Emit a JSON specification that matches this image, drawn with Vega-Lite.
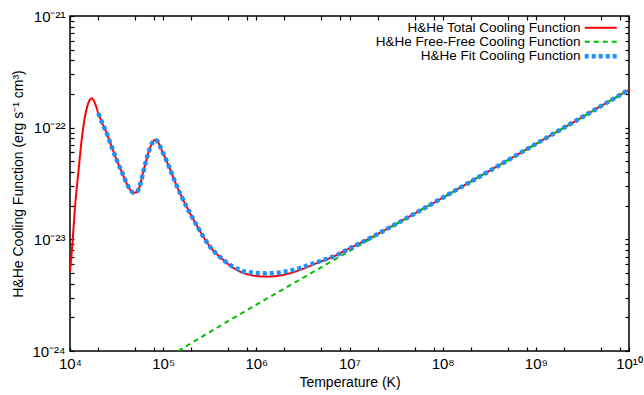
{
  "$schema": "https://vega.github.io/schema/vega-lite/v6.json",
  "width": 559,
  "height": 335,
  "autosize": {"type": "none"},
  "padding": {"left": 70, "top": 16, "right": 15, "bottom": 44},
  "background": "white",
  "config": {
    "font": "Liberation Sans",
    "view": {"stroke": "black", "strokeWidth": 1.5},
    "axis": {
      "domain": false, "tickColor": "black", "tickWidth": 1.2, "tickSize": 4, "offset": -4,
      "grid": false, "labelFont": "Liberation Sans", "labelFontSize": 15, "labelColor": "black",
      "titleFont": "Liberation Sans", "titleFontSize": 14, "titleFontWeight": "normal", "titleColor": "black"
    }
  },
  "data": {"values": [
    {"series": "H&He Total Cooling Function", "T": 10000, "L": 5.1286e-24},
    {"series": "H&He Total Cooling Function", "T": 10351, "L": 7.0795e-24},
    {"series": "H&He Total Cooling Function", "T": 10690, "L": 9.886e-24},
    {"series": "H&He Total Cooling Function", "T": 11324, "L": 1.9634e-23},
    {"series": "H&He Total Cooling Function", "T": 12274, "L": 3.9084e-23},
    {"series": "H&He Total Cooling Function", "T": 13335, "L": 7.7625e-23},
    {"series": "H&He Total Cooling Function", "T": 14488, "L": 1.2560e-22},
    {"series": "H&He Total Cooling Function", "T": 15704, "L": 1.6520e-22},
    {"series": "H&He Total Cooling Function", "T": 17100, "L": 1.8323e-22},
    {"series": "H&He Total Cooling Function", "T": 18535, "L": 1.6520e-22},
    {"series": "H&He Total Cooling Function", "T": 20137, "L": 1.3459e-22},
    {"series": "H&He Total Cooling Function", "T": 21878, "L": 1.1324e-22},
    {"series": "H&He Total Cooling Function", "T": 24774, "L": 8.9125e-23},
    {"series": "H&He Total Cooling Function", "T": 27990, "L": 6.7608e-23},
    {"series": "H&He Total Cooling Function", "T": 31696, "L": 5.1404e-23},
    {"series": "H&He Total Cooling Function", "T": 35892, "L": 4.0365e-23},
    {"series": "H&He Total Cooling Function", "T": 40551, "L": 3.1769e-23},
    {"series": "H&He Total Cooling Function", "T": 44668, "L": 2.7542e-23},
    {"series": "H&He Total Cooling Function", "T": 47753, "L": 2.6182e-23},
    {"series": "H&He Total Cooling Function", "T": 50699, "L": 2.6303e-23},
    {"series": "H&He Total Cooling Function", "T": 54075, "L": 2.7669e-23},
    {"series": "H&He Total Cooling Function", "T": 57544, "L": 3.2359e-23},
    {"series": "H&He Total Cooling Function", "T": 61235, "L": 4.0365e-23},
    {"series": "H&He Total Cooling Function", "T": 69183, "L": 5.9020e-23},
    {"series": "H&He Total Cooling Function", "T": 75858, "L": 7.2444e-23},
    {"series": "H&He Total Cooling Function", "T": 81658, "L": 7.7625e-23},
    {"series": "H&He Total Cooling Function", "T": 88105, "L": 7.4131e-23},
    {"series": "H&He Total Cooling Function", "T": 96383, "L": 6.3096e-23},
    {"series": "H&He Total Cooling Function", "T": 113500, "L": 4.6345e-23},
    {"series": "H&He Total Cooling Function", "T": 133970, "L": 3.2885e-23},
    {"series": "H&He Total Cooling Function", "T": 157760, "L": 2.4099e-23},
    {"series": "H&He Total Cooling Function", "T": 194090, "L": 1.7140e-23},
    {"series": "H&He Total Cooling Function", "T": 238230, "L": 1.2589e-23},
    {"series": "H&He Total Cooling Function", "T": 317690, "L": 8.6099e-24},
    {"series": "H&He Total Cooling Function", "T": 441570, "L": 6.5464e-24},
    {"series": "H&He Total Cooling Function", "T": 615180, "L": 5.3211e-24},
    {"series": "H&He Total Cooling Function", "T": 853100, "L": 4.8084e-24},
    {"series": "H&He Total Cooling Function", "T": 1288200, "L": 4.6345e-24},
    {"series": "H&He Total Cooling Function", "T": 1945400, "L": 4.7973e-24},
    {"series": "H&He Total Cooling Function", "T": 2937600, "L": 5.3211e-24},
    {"series": "H&He Total Cooling Function", "T": 4436100, "L": 6.1094e-24},
    {"series": "H&He Total Cooling Function", "T": 6683400, "L": 6.9984e-24},
    {"series": "H&He Total Cooling Function", "T": 10093000, "L": 8.3176e-24},
    {"series": "H&He Total Cooling Function", "T": 15241000, "L": 9.886e-24},
    {"series": "H&He Total Cooling Function", "T": 23014000, "L": 1.1885e-23},
    {"series": "H&He Total Cooling Function", "T": 41020000, "L": 1.5488e-23},
    {"series": "H&He Total Cooling Function", "T": 100000000, "L": 2.3604e-23},
    {"series": "H&He Total Cooling Function", "T": 316230000, "L": 4.0926e-23},
    {"series": "H&He Total Cooling Function", "T": 1000000000, "L": 7.1450e-23},
    {"series": "H&He Total Cooling Function", "T": 3162300000, "L": 1.2474e-22},
    {"series": "H&He Total Cooling Function", "T": 10000000000, "L": 2.1878e-22},
    {"series": "H&He Free-Free Cooling Function", "T": 145210, "L": 1.0e-24},
    {"series": "H&He Free-Free Cooling Function", "T": 316230, "L": 1.4791e-24},
    {"series": "H&He Free-Free Cooling Function", "T": 1000000, "L": 2.6002e-24},
    {"series": "H&He Free-Free Cooling Function", "T": 3162300, "L": 4.5186e-24},
    {"series": "H&He Free-Free Cooling Function", "T": 10000000, "L": 7.8524e-24},
    {"series": "H&He Free-Free Cooling Function", "T": 31623000, "L": 1.3646e-23},
    {"series": "H&He Free-Free Cooling Function", "T": 100000000, "L": 2.3550e-23},
    {"series": "H&He Free-Free Cooling Function", "T": 316230000, "L": 4.0832e-23},
    {"series": "H&He Free-Free Cooling Function", "T": 1000000000, "L": 7.1285e-23},
    {"series": "H&He Free-Free Cooling Function", "T": 3162300000, "L": 1.2445e-22},
    {"series": "H&He Free-Free Cooling Function", "T": 10000000000, "L": 2.1878e-22},
    {"series": "H&He Fit Cooling Function", "T": 20137, "L": 1.3459e-22},
    {"series": "H&He Fit Cooling Function", "T": 21878, "L": 1.1324e-22},
    {"series": "H&He Fit Cooling Function", "T": 24774, "L": 8.9125e-23},
    {"series": "H&He Fit Cooling Function", "T": 27990, "L": 6.7608e-23},
    {"series": "H&He Fit Cooling Function", "T": 31696, "L": 5.1404e-23},
    {"series": "H&He Fit Cooling Function", "T": 35892, "L": 4.0365e-23},
    {"series": "H&He Fit Cooling Function", "T": 40551, "L": 3.1769e-23},
    {"series": "H&He Fit Cooling Function", "T": 44668, "L": 2.7542e-23},
    {"series": "H&He Fit Cooling Function", "T": 47753, "L": 2.6182e-23},
    {"series": "H&He Fit Cooling Function", "T": 50699, "L": 2.6303e-23},
    {"series": "H&He Fit Cooling Function", "T": 54075, "L": 2.7669e-23},
    {"series": "H&He Fit Cooling Function", "T": 57544, "L": 3.2359e-23},
    {"series": "H&He Fit Cooling Function", "T": 61235, "L": 4.0365e-23},
    {"series": "H&He Fit Cooling Function", "T": 69183, "L": 5.9020e-23},
    {"series": "H&He Fit Cooling Function", "T": 75858, "L": 7.2444e-23},
    {"series": "H&He Fit Cooling Function", "T": 81658, "L": 7.7625e-23},
    {"series": "H&He Fit Cooling Function", "T": 88105, "L": 7.4131e-23},
    {"series": "H&He Fit Cooling Function", "T": 96383, "L": 6.3096e-23},
    {"series": "H&He Fit Cooling Function", "T": 113500, "L": 4.6345e-23},
    {"series": "H&He Fit Cooling Function", "T": 133970, "L": 3.2885e-23},
    {"series": "H&He Fit Cooling Function", "T": 157760, "L": 2.4099e-23},
    {"series": "H&He Fit Cooling Function", "T": 194090, "L": 1.7140e-23},
    {"series": "H&He Fit Cooling Function", "T": 238230, "L": 1.2589e-23},
    {"series": "H&He Fit Cooling Function", "T": 317690, "L": 8.6099e-24},
    {"series": "H&He Fit Cooling Function", "T": 441570, "L": 6.5464e-24},
    {"series": "H&He Fit Cooling Function", "T": 615180, "L": 5.4702e-24},
    {"series": "H&He Fit Cooling Function", "T": 853100, "L": 5.0350e-24},
    {"series": "H&He Fit Cooling Function", "T": 1288200, "L": 4.9545e-24},
    {"series": "H&He Fit Cooling Function", "T": 1945400, "L": 5.0933e-24},
    {"series": "H&He Fit Cooling Function", "T": 2937600, "L": 5.5208e-24},
    {"series": "H&He Fit Cooling Function", "T": 4436100, "L": 6.2373e-24},
    {"series": "H&He Fit Cooling Function", "T": 6683400, "L": 6.9984e-24},
    {"series": "H&He Fit Cooling Function", "T": 10093000, "L": 8.3176e-24},
    {"series": "H&He Fit Cooling Function", "T": 15241000, "L": 9.886e-24},
    {"series": "H&He Fit Cooling Function", "T": 23014000, "L": 1.1885e-23},
    {"series": "H&He Fit Cooling Function", "T": 41020000, "L": 1.5488e-23},
    {"series": "H&He Fit Cooling Function", "T": 100000000, "L": 2.3604e-23},
    {"series": "H&He Fit Cooling Function", "T": 316230000, "L": 4.0926e-23},
    {"series": "H&He Fit Cooling Function", "T": 1000000000, "L": 7.1450e-23},
    {"series": "H&He Fit Cooling Function", "T": 3162300000, "L": 1.2474e-22},
    {"series": "H&He Fit Cooling Function", "T": 10000000000, "L": 2.1878e-22}
  ]},
  "encoding": {
    "color": {"field": "series", "type": "nominal",
      "scale": {"domain": ["H&He Total Cooling Function", "H&He Free-Free Cooling Function", "H&He Fit Cooling Function"], "range": ["#ff0000", "#00c000", "#1e90ff"]},
      "legend": {"orient": "none", "legendX": 524, "legendY": 5, "direction": "vertical", "title": null,
        "labelAlign": "right", "labelOffset": -27, "labelFontSize": 13.5, "labelLimit": 400,
        "labelFont": "Liberation Sans", "labelColor": "black",
        "symbolType": "M-2.667,0H2.667", "symbolSize": 144, "rowPadding": -2.5, "padding": 0,
        "encode": {"symbols": {"update": {"strokeWidth": {"signal": "datum.value == 'H&He Fit Cooling Function' ? 4.5 : 2"}}}}}},
    "strokeDash": {"field": "series", "type": "nominal", "scale": {"domain": ["H&He Total Cooling Function", "H&He Free-Free Cooling Function", "H&He Fit Cooling Function"], "range": [[1, 0], [5, 4], [4, 3]]}}
  },
  "resolve": {"axis": {"x": "independent", "y": "independent"}},
  "layer": [
    {
      "transform": [{"filter": "datum.series != 'H&He Fit Cooling Function'"}],
      "mark": {"type": "line", "clip": true, "strokeCap": "butt", "interpolate": "monotone", "strokeWidth": 2},
      "encoding": {
        "x": {"field": "T", "type": "quantitative", "scale": {"type": "log", "domain": [10000, 10000000000], "nice": false},
          "axis": {"orient": "bottom", "title": "Temperature (K)", "titlePadding": 4,
            "values": [10000, 20000, 50000, 80000, 100000, 200000, 500000, 800000, 1000000, 2000000, 5000000, 8000000, 10000000, 20000000, 50000000, 80000000, 100000000, 200000000, 500000000, 800000000, 1000000000, 2000000000, 5000000000, 8000000000, 10000000000],
            "labelExpr": "datum.value == 10000 ? '10⁴' : datum.value == 100000 ? '10⁵' : datum.value == 1000000 ? '10⁶' : datum.value == 10000000 ? '10⁷' : datum.value == 100000000 ? '10⁸' : datum.value == 1000000000 ? '10⁹' : datum.value == 10000000000 ? '10¹⁰' : ''",
            "labelPadding": 5, "labelFlush": false}},
        "y": {"field": "L", "type": "quantitative", "scale": {"type": "log", "domain": [1e-24, 1e-21], "nice": false},
          "axis": {"orient": "left", "title": "H&He Cooling Function (erg s⁻¹ cm³)", "titlePadding": 6,
            "values": [1e-24, 2e-24, 3e-24, 4e-24, 5e-24, 6e-24, 7e-24, 8e-24, 9e-24, 1e-23, 2e-23, 3e-23, 4e-23, 5e-23, 6e-23, 7e-23, 8e-23, 9e-23, 1e-22, 2e-22, 3e-22, 4e-22, 5e-22, 6e-22, 7e-22, 8e-22, 9e-22, 1e-21],
            "labelExpr": "datum.value == 1e-24 ? '10⁻²⁴' : datum.value == 1e-23 ? '10⁻²³' : datum.value == 1e-22 ? '10⁻²²' : datum.value == 1e-21 ? '10⁻²¹' : ''",
            "labelPadding": 5, "labelFlush": false}}
      }
    },
    {
      "transform": [{"filter": "datum.series == 'H&He Fit Cooling Function'"}],
      "mark": {"type": "line", "clip": true, "strokeCap": "butt", "interpolate": "monotone", "strokeWidth": 4.5},
      "encoding": {
        "x": {"field": "T", "type": "quantitative", "scale": {"type": "log", "domain": [10000, 10000000000], "nice": false},
          "axis": {"orient": "top", "title": null, "labels": false,
            "values": [10000, 20000, 50000, 80000, 100000, 200000, 500000, 800000, 1000000, 2000000, 5000000, 8000000, 10000000, 20000000, 50000000, 80000000, 100000000, 200000000, 500000000, 800000000, 1000000000, 2000000000, 5000000000, 8000000000, 10000000000]}},
        "y": {"field": "L", "type": "quantitative", "scale": {"type": "log", "domain": [1e-24, 1e-21], "nice": false},
          "axis": {"orient": "right", "title": null, "labels": false,
            "values": [1e-24, 2e-24, 3e-24, 4e-24, 5e-24, 6e-24, 7e-24, 8e-24, 9e-24, 1e-23, 2e-23, 3e-23, 4e-23, 5e-23, 6e-23, 7e-23, 8e-23, 9e-23, 1e-22, 2e-22, 3e-22, 4e-22, 5e-22, 6e-22, 7e-22, 8e-22, 9e-22, 1e-21]}}
      }
    }
  ]
}
